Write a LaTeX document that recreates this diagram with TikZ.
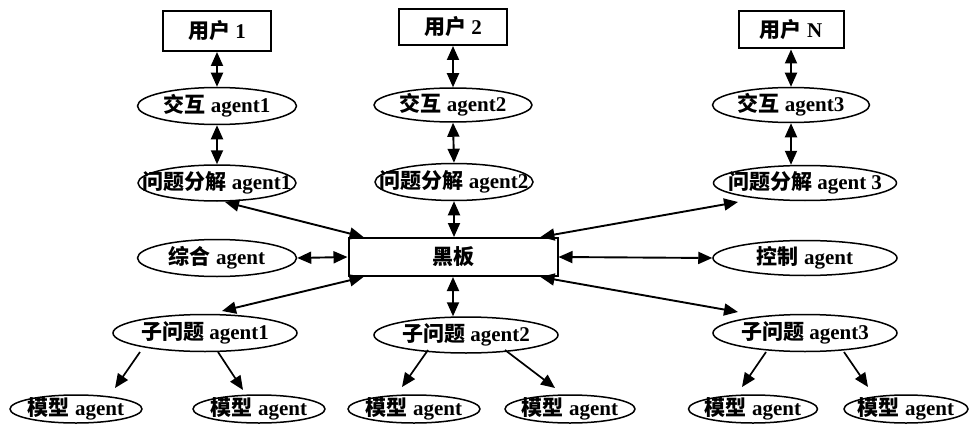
\documentclass[tikz,border=0pt]{standalone}
\usepackage{fontspec}
\setmainfont{Liberation Serif}
\newfontfamily\cjk{Noto Sans CJK SC}
\usetikzlibrary{shapes.geometric,arrows.meta}
\newcommand{\zh}[1]{{\cjk\bfseries #1}}
\tikzset{
  lbl/.style={font=\fontsize{21}{21}\selectfont\bfseries, inner sep=0pt},
  base/.style={inner sep=0pt, line width=1.5pt},
  ell/.style={base, draw, ellipse},
  box/.style={base, draw, rectangle, line width=2pt},
  txt/.style={label={[lbl]center:#1}},
  dbl/.style={{Triangle[length=14pt,width=12pt]}-{Triangle[length=14pt,width=12pt]}, line width=1.9pt},
  one/.style={-{Triangle[length=14pt,width=12pt]}, line width=1.7pt}
}
\begin{document}
\begin{tikzpicture}[x=1pt,y=-1pt]
\useasboundingbox (0,0) rectangle (971,425);
\fill[white] (0,0) rectangle (971,425);
% top boxes
\node[box, minimum width=108pt, minimum height=40pt, txt={\zh{用户} 1}] (u1) at (217,31) {};
\node[box, minimum width=108pt, minimum height=36pt, txt={\zh{用户} 2}] (u2) at (453,27) {};
\node[box, minimum width=105pt, minimum height=37pt, txt={\zh{用户} N}] (u3) at (791,30) {};
% interaction agents
\node[ell, minimum width=159pt, minimum height=37pt, txt={\zh{交互} agent1}] (i1) at (217,106) {};
\node[ell, minimum width=158pt, minimum height=34pt, txt={\zh{交互} agent2}] (i2) at (453,105) {};
\node[ell, minimum width=157pt, minimum height=35pt, txt={\zh{交互} agent3}] (i3) at (791,105) {};
% decomposition agents
\node[ell, minimum width=158pt, minimum height=36pt, txt={\zh{问题分解} agent1}] (p1) at (217,183) {};
\node[ell, minimum width=158pt, minimum height=37pt, txt={\zh{问题分解} agent2}] (p2) at (454,182) {};
\node[ell, minimum width=183pt, minimum height=35pt, txt={\zh{问题分解} agent 3}] (p3) at (805,183) {};
% middle row
\node[box, minimum width=209pt, minimum height=38pt, txt={\zh{黑板}}] (bb) at (453,257) {};
\node[ell, minimum width=159pt, minimum height=37pt, txt={\zh{综合} agent}] (z) at (217,258) {};
\node[ell, minimum width=184pt, minimum height=35pt, txt={\zh{控制} agent}] (k) at (805,258) {};
% sub-problem agents
\node[ell, minimum width=184pt, minimum height=37pt, txt={\zh{子问题} agent1}] (s1) at (205,333) {};
\node[ell, minimum width=184pt, minimum height=36pt, txt={\zh{子问题} agent2}] (s2) at (466,335) {};
\node[ell, minimum width=184pt, minimum height=37pt, txt={\zh{子问题} agent3}] (s3) at (805,333) {};
% model agents
\node[ell, minimum width=132pt, minimum height=28pt, txt={\zh{模型} agent}] (m1) at (76,409) {};
\node[ell, minimum width=132pt, minimum height=28pt, txt={\zh{模型} agent}] (m2) at (259,409) {};
\node[ell, minimum width=132pt, minimum height=28pt, txt={\zh{模型} agent}] (m3) at (414,409) {};
\node[ell, minimum width=130pt, minimum height=28pt, txt={\zh{模型} agent}] (m4) at (570,409) {};
\node[ell, minimum width=129pt, minimum height=28pt, txt={\zh{模型} agent}] (m5) at (753,409) {};
\node[ell, minimum width=124pt, minimum height=28pt, txt={\zh{模型} agent}] (m6) at (906,409) {};
% vertical double arrows
\draw[dbl] (u1.south) -- (i1.north);
\draw[dbl] (u2.south) -- (i2.north);
\draw[dbl] (u3.south) -- (i3.north);
\draw[dbl] (i1.south) -- (p1.north);
\draw[dbl] (i2.south) -- (p2.north);
\draw[dbl] (i3.south) -- (i3.south |- p3.north);
\draw[dbl] (p2.south) -- (p2.south |- bb.north);
\draw[dbl] (bb.south) -- (bb.south |- s2.north);
% blackboard links
\draw[dbl] ([xshift=8pt,yshift=-19pt]p1.center) -- ([xshift=16pt]bb.north west);
\draw[dbl] ([xshift=-18pt]bb.north east) -- ([xshift=-67pt,yshift=-19pt]p3.center);
\draw[dbl] (z.east) -- (bb.west);
\draw[dbl] (bb.east) -- (k.west);
\draw[dbl] ([xshift=16pt]bb.south west) -- ([xshift=17pt,yshift=22pt]s1.center);
\draw[dbl] ([xshift=-18pt]bb.south east) -- ([xshift=-67pt,yshift=21pt]s3.center);
% sub-problem to model
\draw[one] ([xshift=-65pt,yshift=-19pt]s1.center) -- ([xshift=39pt,yshift=21pt]m1.center);
\draw[one] ([xshift=13pt,yshift=-19pt]s1.center) -- ([xshift=-16pt,yshift=19pt]m2.center);
\draw[one] ([xshift=-38pt,yshift=-15pt]s2.center) -- ([xshift=-12pt,yshift=22pt]m3.center);
\draw[one] ([xshift=39pt,yshift=-15pt]s2.center) -- ([xshift=-15pt,yshift=21pt]m4.center);
\draw[one] ([xshift=-39pt,yshift=-19pt]s3.center) -- ([xshift=-11pt,yshift=22pt]m5.center);
\draw[one] ([xshift=39pt,yshift=-19pt]s3.center) -- ([xshift=-38pt,yshift=22pt]m6.center);
\end{tikzpicture}
\end{document}
